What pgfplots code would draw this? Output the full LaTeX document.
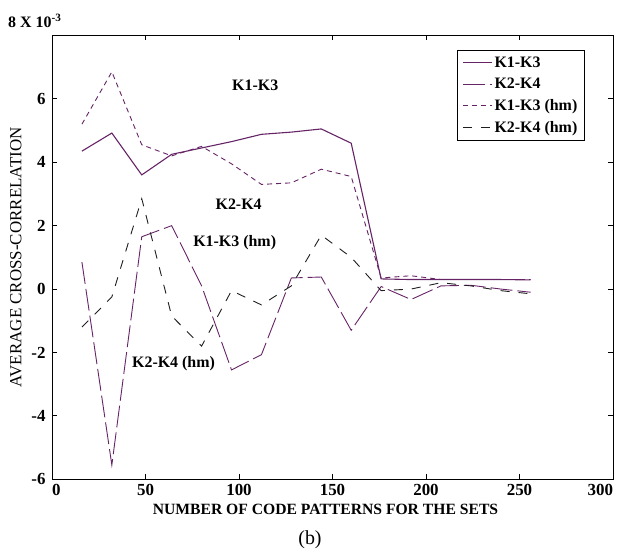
\documentclass[border=0pt]{standalone}
\usepackage{pgfplots}
\pgfplotsset{compat=1.18}
\usepackage{fontspec}
\setmainfont{Liberation Serif}
\definecolor{pur}{RGB}{102,36,102}
\definecolor{blk}{RGB}{30,30,30}
\begin{document}
\begin{tikzpicture}
\useasboundingbox (-52bp,-74.7bp) rectangle (565bp,479.3bp);
\begin{axis}[
  at={(0bp,0bp)}, anchor=south west,
  scale only axis, width=561bp, height=443.9bp,
  xmin=0, xmax=300, ymin=-6, ymax=8,
  xtick={0,50,...,300},
  xticklabels={{\makebox[0pt][l]{0}},50,100,150,200,250,{\makebox[0pt][r]{300}}},
  ytick={-6,-4,...,6},
  tick align=inside,
  major tick length=5bp,
  axis line style={line width=1bp},
  tick style={line width=0.8bp, black},
  /pgf/number format/assume math mode=true,
  ticklabel style={font=\fontsize{17}{17}\selectfont\bfseries},
  xticklabel style={yshift=-1bp},
  yticklabel style={xshift=-3bp},
  xlabel={NUMBER OF CODE PATTERNS FOR THE SETS},
  xlabel style={at={(axis description cs:0.5,0)}, anchor=center, yshift=-30bp, xshift=-7bp,
    font=\fontsize{15.7}{15.7}\selectfont\bfseries},
  ylabel={AVERAGE CROSS-CORRELATION},
  ylabel style={at={(axis description cs:0,0.5)}, anchor=center, yshift=36bp,
    font=\fontsize{17}{17}\selectfont},
  legend cell align=left,
  legend image code/.code={\draw[#1] (0bp,0bp) -- (29bp,0bp);},
  legend style={at={(rel axis cs:0.722,0.967)}, anchor=north west,
    font=\fontsize{16}{16}\selectfont\bfseries, draw=black, line width=0.8bp,
    row sep=5.5bp, inner sep=4bp, inner xsep=5bp},
]
\addplot[pur, line width=1.1bp] coordinates {
(16,4.35) (32,4.92) (48,3.6) (64,4.25) (80,4.45) (96,4.65) (112,4.88) (128,4.95)
(144,5.05) (160,4.6) (176,0.32) (192,0.3) (208,0.3) (224,0.3) (240,0.3) (256,0.29)};
\addlegendentry{K1-K3}
\addplot[pur, line width=0.9bp, dash pattern=on 22bp off 5bp] coordinates {
(16,0.85) (32,-5.55) (48,1.65) (64,2.0) (80,0.1) (96,-2.55) (112,-2.07) (128,0.35)
(144,0.38) (160,-1.3) (176,0.08) (192,-0.33) (208,0.1) (224,0.12) (240,0.0) (256,-0.1)};
\addlegendentry{K2-K4}
\addplot[pur, line width=0.9bp, dash pattern=on 5bp off 4bp] coordinates {
(16,5.2) (32,6.85) (48,4.55) (64,4.2) (80,4.5) (96,3.95) (112,3.3) (128,3.35)
(144,3.78) (160,3.55) (176,0.35) (192,0.42) (208,0.3) (224,0.3) (240,0.3) (256,0.3)};
\addlegendentry{K1-K3 (hm)}
\addplot[blk, line width=0.9bp, dash pattern=on 9bp off 9bp] coordinates {
(16,-1.2) (32,-0.25) (48,2.85) (64,-0.85) (80,-1.8) (96,-0.05) (112,-0.5) (128,0.1)
(144,1.7) (160,1.0) (176,-0.05) (192,0.0) (208,0.2) (224,0.1) (240,-0.05) (256,-0.15)};
\addlegendentry{K2-K4 (hm)}
\node[font=\fontsize{16}{16}\selectfont\bfseries] at (axis cs:108.7,6.42) {K1-K3};
\node[font=\fontsize{16}{16}\selectfont\bfseries] at (axis cs:99.8,2.66) {K2-K4};
\node[font=\fontsize{16}{16}\selectfont\bfseries] at (axis cs:97.7,1.45) {K1-K3 (hm)};
\node[font=\fontsize{16}{16}\selectfont\bfseries] at (axis cs:65,-2.34) {K2-K4 (hm)};
\end{axis}
\node[anchor=base west, inner sep=0pt, font=\fontsize{16}{16}\selectfont\bfseries] at (-44bp,451.3bp) {8 X 10\textsuperscript{-3}};
\node[font=\fontsize{20}{20}\selectfont] at (258bp,-60.7bp) {(b)};
\end{tikzpicture}
\end{document}
